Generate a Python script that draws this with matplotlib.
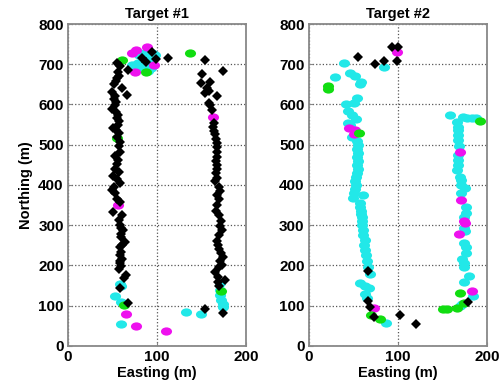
import matplotlib
matplotlib.use('Agg')
from matplotlib import pyplot as plt
from matplotlib.path import Path
from matplotlib.transforms import Affine2D

plt.rcParams['font.family'] = ['Liberation Sans', 'DejaVu Sans']
plt.rcParams['font.weight'] = 'bold'

# Target #1 points (easting, northing)
t1_black = [(55,704),(58,695),(67,686),(56,680),(57,672),(55,665),(54,658),(52,650),(61,640),(66,624),
            (49,631),(53,622),(52,613),(54,605),(53,598),(50,590),(54,582),(56,574),(55,566),(57,558),
            (56,550),(51,542),(54,536),(57,528),(55,518),(58,506),(57,498),(59,482),(53,472),(56,462),
            (55,452),(53,440),(57,432),(51,422),(55,414),(58,405),(52,396),(49,387),(53,380),(55,365),
            (59,358),(51,333),(61,326),(57,312),(58,300),(60,294),(62,288),(60,278),(60,271),(64,259),
            (61,252),(59,246),(60,234),(58,226),(61,217),(59,211),(58,205),(60,198),(57,190),(65,176),
            (63,168),(58,143),(68,106),
            (154,711),(174,683),(151,676),(150,654),(160,657),(156,640),(154,628),(158,634),(167,620),
            (158,603),(160,599),(162,587),(164,554),(163,545),(164,535),(165,527),(166,515),(167,505),
            (168,495),(167,482),(168,470),(166,460),(168,450),(167,440),(166,430),(168,418),(165,410),
            (170,395),(171,385),(168,375),(170,365),(168,350),(166,335),(170,325),(172,310),(171,298),
            (173,288),(170,275),(168,262),(169,250),(170,240),(172,230),(174,221),(171,212),(173,201),
            (170,195),(165,184),(169,172),(177,165),(169,160),(170,148),(154,91),(174,83),
            (83,716),(95,730),(99,712),(112,715),(88,705)]
t1_cyan = [(72,698),(80,722),(84,710),(86,700),(88,690),(90,684),(92,720),(94,706),(96,715),(82,692),
           (86,728),(98,722),(79,703),(91,695),(89,712),(93,690),(85,718),(95,728),
           (59,155),(60,150),(53,125),(60,110),(60,55),(133,85),(150,80),
           (171,157),(171,140),(171,126),(172,114),(174,104),(174,97)]
t1_magenta = [(76,735),(89,742),(75,680),(97,698),(72,727),(56,351),(65,79),(76,50),(110,37),(163,568)]
t1_green = [(61,711),(137,728),(88,681),(63,102),(172,136),(55,517)]

# Target #2 points
t2_cyan = [(84,694),(40,702),(29,668),(46,678),(52,672),(59,657),(58,652),(54,615),(51,603),(42,601),
           (44,583),(48,575),(53,565),(44,554),(46,548),(48,520),
           (54,510),(55,500),(54,490),(55,480),(54,470),(55,460),(54,450),(55,440),(54,430),(53,420),
           (52,410),(53,400),(52,390),(51,380),(50,367),(61,375),(57,355),(58,345),(59,335),(59,329),
           (60,320),(60,310),(60,300),(61,287),(61,275),(63,263),(62,250),(63,238),(64,225),(65,212),
           (67,195),(69,180),(57,156),(63,148),(68,144),(63,128),(65,120),(87,56),
           (158,574),(166,557),(173,570),(178,566),(183,566),(188,566),(168,545),(168,536),(167,525),
           (168,511),(169,498),(168,475),(168,462),(167,450),(166,437),(170,420),(171,412),(171,400),
           (175,392),(171,380),(177,346),(176,330),(174,320),(174,293),(175,285),(174,257),(176,247),
           (177,231),(172,215),(174,205),(174,195),(180,174),(174,160),(184,124),(170,99),(172,104)]
t2_black = [(55,717),(74,700),(84,708),(93,742),(100,742),(99,708),(67,187),(67,112),(69,98),(73,73),
            (102,77),(120,54),(179,110)]
t2_magenta = [(99,730),(45,541),(52,537),(51,527),(73,94),(170,483),(171,363),(174,311),(175,305),
              (169,278),(183,137)]
t2_green = [(21,647),(22,638),(56,528),(70,77),(80,67),(170,132),(174,107),(166,94),(155,92),(151,91),(192,560)]

ellipse = Path.unit_circle().transformed(Affine2D().scale(1.35, 1.0))

fig = plt.figure(figsize=(5.03, 3.81), dpi=100)
ax1 = fig.add_axes([0.135, 0.092, 0.354, 0.845])
ax2 = fig.add_axes([0.614, 0.092, 0.354, 0.845])

panels = [(ax1, 'Target #1', t1_cyan, t1_magenta, t1_green, t1_black),
          (ax2, 'Target #2', t2_cyan, t2_magenta, t2_green, t2_black)]

for ax, title, cy, mg, gr, bk in panels:
    for pts, col in [(cy, '#22e8e8'), (mg, '#ee11ee'), (gr, '#11dd11')]:
        ax.plot([p[0] for p in pts], [p[1] for p in pts], linestyle='none',
                marker=ellipse, markersize=8, color=col, markeredgewidth=0)
    ax.plot([p[0] for p in bk], [p[1] for p in bk], linestyle='none',
            marker='D', markersize=4.6, color='black', markeredgewidth=0)
    ax.set_xlim(0, 200)
    ax.set_ylim(0, 800)
    ax.set_xticks([0, 100, 200])
    ax.set_yticks(range(0, 801, 100))
    ax.grid(True, linestyle=':', color='#555555', linewidth=0.9)
    ax.set_axisbelow(True)
    ax.tick_params(direction='in', length=3, labelsize=11, pad=3, color='#888888')
    for s in ax.spines.values():
        s.set_color('#888888')
        s.set_linewidth(1.3)
    ax.set_title(title, fontsize=10.5, fontweight='bold', pad=4)
    ax.set_xlabel('Easting (m)', fontsize=10.5, fontweight='bold', labelpad=1)

ax1.set_ylabel('Northing (m)', fontsize=10.5, fontweight='bold', labelpad=4)

fig.savefig('out.png', dpi=100)
